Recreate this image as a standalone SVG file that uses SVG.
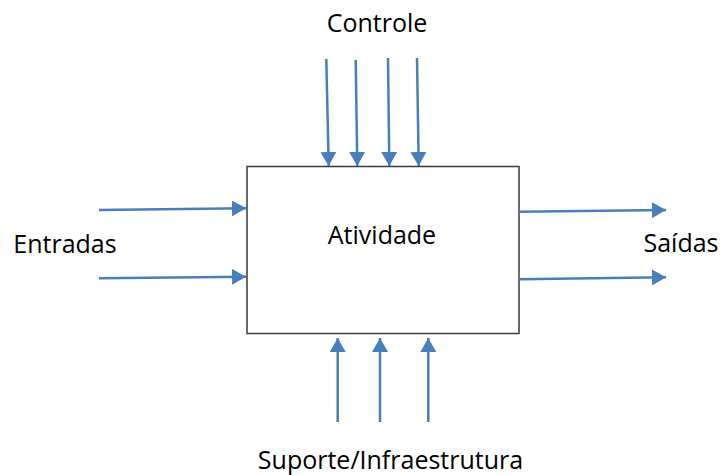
<svg xmlns="http://www.w3.org/2000/svg" width="720" height="475" viewBox="0 0 720 475">
  <style>
    .lbl { font-family: "Open Sans", "Liberation Sans", sans-serif; font-size: 25px; fill: #000; }
    .arrow { stroke: #4a7ebb; stroke-width: 2.5; fill: none; marker-end: url(#head); }
    .box { fill: #fff; stroke: #3a3a3a; stroke-width: 1.5; }
  </style>
  <defs>
    <marker id="head" viewBox="0 0 14 16" refX="14" refY="8" markerWidth="14" markerHeight="16" markerUnits="userSpaceOnUse" orient="auto">
      <path d="M0,0 L14,8 L0,16 Z" fill="#4a7ebb"/>
    </marker>
  </defs>

  <g id="atividade">
    <rect class="box" x="247" y="166.5" width="272" height="167"/>
    <text class="lbl" x="382" y="243.5" text-anchor="middle">Atividade</text>
  </g>

  <g id="controle">
    <text class="lbl" x="377" y="31.5" text-anchor="middle">Controle</text>
  </g>
  <g id="entradas">
    <text class="lbl" x="65" y="253.3" text-anchor="middle">Entradas</text>
  </g>
  <g id="saidas">
    <text class="lbl" x="681" y="252.3" text-anchor="middle">Saídas</text>
  </g>
  <g id="suporte">
    <text class="lbl" x="390.5" y="469.3" text-anchor="middle">Suporte/Infraestrutura</text>
  </g>

  <g id="connectors">
    <!-- controls entering from the top -->
    <line class="arrow" x1="326.3" y1="59" x2="328.7" y2="166"/>
    <line class="arrow" x1="355.7" y1="60" x2="357.3" y2="166"/>
    <line class="arrow" x1="388" y1="58" x2="389.3" y2="166"/>
    <line class="arrow" x1="417" y1="58" x2="418.7" y2="166"/>
    <!-- inputs from the left -->
    <line class="arrow" x1="99" y1="210" x2="246" y2="208.3"/>
    <line class="arrow" x1="99" y1="278.3" x2="246" y2="276.7"/>
    <!-- outputs to the right -->
    <line class="arrow" x1="519" y1="211.7" x2="666" y2="210"/>
    <line class="arrow" x1="519" y1="279.3" x2="666" y2="277.3"/>
    <!-- support from below -->
    <line class="arrow" x1="337.7" y1="422" x2="337.7" y2="338"/>
    <line class="arrow" x1="380" y1="422" x2="380" y2="338"/>
    <line class="arrow" x1="428.3" y1="422" x2="428.3" y2="338"/>
  </g>
</svg>
